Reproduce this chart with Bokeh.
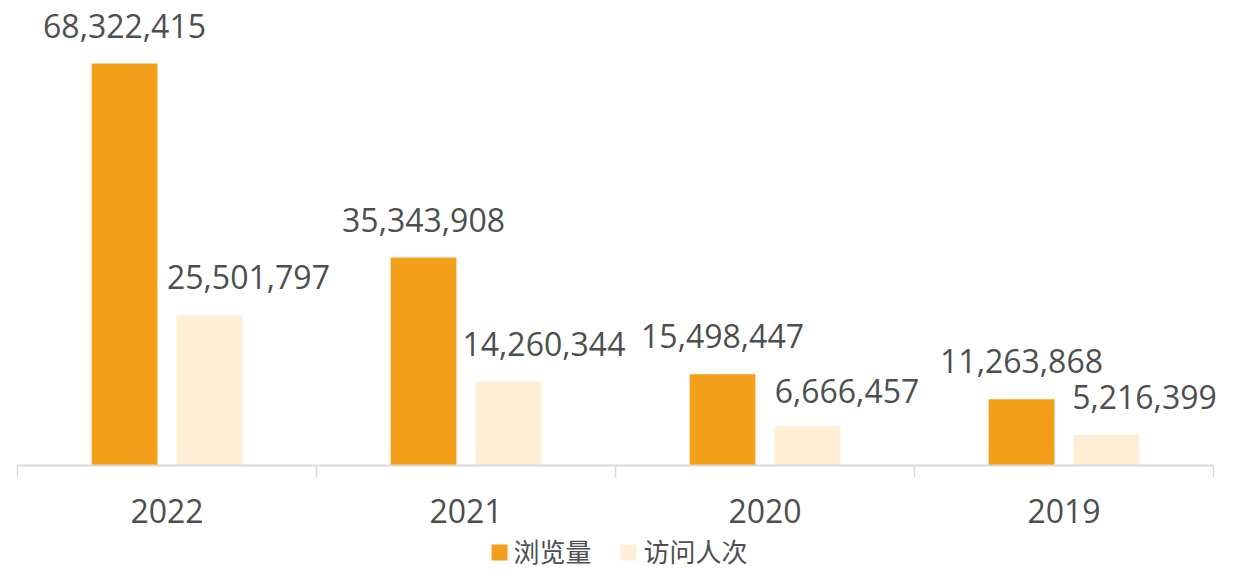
from bokeh.plotting import figure
from bokeh.models import ColumnDataSource, FactorRange, Range1d
from bokeh.transform import dodge
from bokeh.core.properties import value
from bokeh.embed import file_html
from bokeh.resources import INLINE

# ---- data ----
years = ["2022", "2021", "2020", "2019"]
views = [68322415, 35343908, 15498447, 11263868]      # 浏览量
visits = [25501797, 14260344, 6666457, 5216399]       # 访问人次
series_names = ["浏览量", "访问人次"]

# ---- layout / style constants ----
W, H = 1217, 571
BASE_PX = 465                      # baseline distance from top of canvas (px)
TOP_BAR_PX = 402                   # height in px of the tallest bar
PX = max(views) / TOP_BAR_PX       # data units per pixel
ORANGE = "#F39F19"
CREAM = "#FFEED3"
TEXT = "#4b4f4f"
AXIS = "#d9d9d9"
FONT = value("Open Sans")
CJK = value("Noto Sans CJK SC")
OFF = 0.142
BW = 0.22

p = figure(width=W, height=H, output_backend="svg", toolbar_location=None,
           x_range=FactorRange(factors=years, range_padding=4 / 299,
                               range_padding_units="absolute"),
           y_range=Range1d(-(H - BASE_PX) * PX, BASE_PX * PX),
           x_axis_location=None, y_axis_location=None,
           min_border=0, min_border_left=13, min_border_right=0,
           outline_line_color=None)
p.grid.visible = False
p.background_fill_color = "white"
p.border_fill_color = "white"

src = ColumnDataSource(dict(
    year=years, views=views, visits=visits,
    views_lbl=[f"{v:,}" for v in views],
    visits_lbl=[f"{v:,}" for v in visits],
    zero=[0] * len(years),
    tick=[-12 * PX] * len(years),
    dx2=[39, 35.5, 39.5, 38],
    dy2=[-38, -38, -35, -38],
))

# bars
p.vbar(x=dodge("year", -OFF, range=p.x_range), top="views", width=BW,
       source=src, fill_color=ORANGE, line_color=None)
p.vbar(x=dodge("year", OFF, range=p.x_range), top="visits", width=BW,
       source=src, fill_color=CREAM, line_color=None)

# value labels
p.text(x=dodge("year", -OFF, range=p.x_range), y="views", text="views_lbl",
       source=src, y_offset=-38, text_align="center", text_baseline="alphabetic",
       text_font=FONT, text_font_size="32px", text_color=TEXT)
p.text(x=dodge("year", OFF, range=p.x_range), y="visits", text="visits_lbl",
       source=src, x_offset="dx2", y_offset="dy2", text_align="center",
       text_baseline="alphabetic", text_font=FONT, text_font_size="32px",
       text_color=TEXT)

# axis line and category separators
p.segment(x0=dodge("year", -0.5, range=p.x_range), x1=dodge("year", 0.5, range=p.x_range),
          y0="zero", y1="zero", source=src, line_color=AXIS, line_width=2)
p.segment(x0=dodge("year", -0.5, range=p.x_range), x1=dodge("year", -0.5, range=p.x_range),
          y0="zero", y1="tick", source=src, line_color=AXIS, line_width=1.5)
last = ColumnDataSource(dict(year=[years[-1]], zero=[0], tick=[-12 * PX]))
p.segment(x0=dodge("year", 0.5, range=p.x_range), x1=dodge("year", 0.5, range=p.x_range),
          y0="zero", y1="tick", source=last, line_color=AXIS, line_width=1.5)

# category labels
p.text(x="year", y="zero", text="year", source=src, y_offset=45,
       text_align="center", text_baseline="alphabetic", text_font=FONT,
       text_font_size="32px", text_color=TEXT)

# legend (drawn manually, centred under the chart)
leg_y = -87 * PX
mid = ColumnDataSource(dict(year=[years[1]], y=[leg_y]))
p.scatter(x=dodge("year", 0.5 - 116 / 299, range=p.x_range), y="y", source=mid,
          marker="square", size=16, fill_color=ORANGE, line_color=None)
p.scatter(x=dodge("year", 0.5 + 13 / 299, range=p.x_range), y="y", source=mid,
          marker="square", size=16, fill_color=CREAM, line_color=None)
leg = ColumnDataSource(dict(year=[years[1]] * 2, y=[leg_y] * 2,
                            name=series_names, dx=[-102, 28]))
p.text(x=dodge("year", 0.5, range=p.x_range), y="y", text="name", source=leg,
       x_offset="dx", y_offset=-2, text_align="left", text_baseline="middle",
       text_font=CJK, text_font_size="26px", text_color=TEXT)

open("out.html", "w").write(file_html(p, INLINE))
